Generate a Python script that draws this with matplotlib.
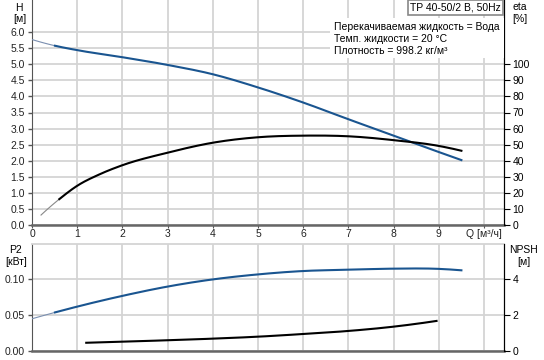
import matplotlib
matplotlib.use("Agg")
import matplotlib.pyplot as plt
import numpy as np
from matplotlib.patches import Rectangle

plt.rcParams['font.family'] = ['Liberation Sans', 'DejaVu Sans']
plt.rcParams['font.size'] = 7.5

# Data
q_h = [0.0, 0.5, 1.0, 2.0, 3.0, 4.0, 5.0, 6.0, 7.0, 8.0, 9.0, 9.5]
h_vals = [5.77, 5.58, 5.44, 5.22, 4.98, 4.69, 4.28, 3.81, 3.29, 2.78, 2.27, 2.02]
q_eta = [0.2, 0.6, 1.0, 1.5, 2.0, 3.0, 4.0, 5.0, 6.0, 7.0, 8.0, 9.0, 9.5]
eta_vals = [6.2, 16.0, 24.4, 31.6, 37.2, 45.0, 51.2, 54.6, 55.6, 55.2, 52.8, 49.2, 46.2]
q_p2 = [0.0, 1.0, 2.0, 3.0, 4.0, 5.0, 6.0, 7.0, 8.0, 9.0, 9.5]
p2_vals = [0.045, 0.062, 0.077, 0.090, 0.100, 0.107, 0.1117, 0.1135, 0.115, 0.1147, 0.1127]
q_npsh = [1.2, 2.0, 3.0, 4.0, 5.0, 6.0, 7.0, 8.0, 8.95]
npsh_vals = [0.46, 0.52, 0.60, 0.69, 0.80, 0.95, 1.12, 1.36, 1.68]

x_ticks = list(range(0, 11))
x_labels = [str(i) for i in range(10)] + ['Q [м³/ч]']
h_ticks = [i * 0.5 for i in range(13)]
eta_ticks = list(range(0, 101, 10))
p2_ticks = [0.00, 0.05, 0.10]
npsh_ticks = [0, 2, 4]

blue = '#1a5590'
gridc = '#d4d4d4'

def smooth(x, y, n=300):
    x = np.asarray(x, float); y = np.asarray(y, float)
    k = len(x)
    d = np.diff(y) / np.diff(x)
    h = np.diff(x)
    m = np.zeros(k)
    for i in range(1, k - 1):
        m[i] = (h[i] * d[i - 1] + h[i - 1] * d[i]) / (h[i - 1] + h[i])
    m[0] = d[0] - (m[1] - d[0])
    m[-1] = d[-1] + (d[-1] - m[-2])
    xs = np.linspace(x[0], x[-1], n)
    out = np.empty(n)
    for j, xv in enumerate(xs):
        i = min(max(np.searchsorted(x, xv) - 1, 0), k - 2)
        t = (xv - x[i]) / h[i]
        t2, t3 = t * t, t ** 3
        out[j] = ((2*t3 - 3*t2 + 1) * y[i] + (t3 - 2*t2 + t) * h[i] * m[i]
                  + (-2*t3 + 3*t2) * y[i + 1] + (t3 - t2) * h[i] * m[i + 1])
    return xs, out

fig = plt.figure(figsize=(5.44, 3.6), dpi=100)
xmax = (504 - 32) / 45.2

# ---------- top axes ----------
ax = fig.add_axes([32/544, 1 - 225/360, 472/544, 225/360])
ax.set_xlim(0, xmax)
ax.set_ylim(0, 7.0)
ax.set_xticks(x_ticks)
ax.set_xticklabels(x_labels)
ax.set_yticks(h_ticks)
ax.set_yticklabels([f'{v:.1f}' for v in h_ticks])
ax.grid(True, color=gridc, linewidth=1.3)
ax.set_axisbelow(True)
ax.tick_params(axis='y', length=3, width=1, pad=2, colors='#555555', labelcolor='#222222')
ax.tick_params(axis='x', length=2, pad=1, colors='#555555', labelcolor='#222222')
ax.spines['top'].set_visible(False)
ax.spines['left'].set_color('#555555')
ax.spines['bottom'].set_color('#666666')
ax.spines['bottom'].set_linewidth(1.8)
ax.spines['right'].set_color('black')

xs, ys = smooth(q_h, h_vals)
ax.plot(xs[xs <= 0.55], ys[xs <= 0.55], color='#7a8fb0', lw=0.8, zorder=3)
ax.plot(xs[xs >= 0.5], ys[xs >= 0.5], color=blue, lw=1.5, zorder=3)

ax2 = ax.twinx()
ax2.set_ylim(0, 140)
ax2.set_yticks(eta_ticks)
ax2.tick_params(axis='y', length=4, pad=2, colors='black')
for s in ['top', 'left', 'bottom']:
    ax2.spines[s].set_visible(False)
ax2.spines['right'].set_color('black')
xs, ys = smooth(q_eta, eta_vals)
ax2.plot(xs[xs <= 0.65], ys[xs <= 0.65], color='#888888', lw=0.8, zorder=3)
ax2.plot(xs[xs >= 0.6], ys[xs >= 0.6], color='black', lw=1.5, zorder=3)

fig.text(19/544, 1 - 8/360, 'H', ha='center', va='center', fontsize=7.5)
fig.text(20/544, 1 - 19/360, '[м]', ha='center', va='center', fontsize=7.5)
fig.text(520/544, 1 - 7/360, 'eta', ha='center', va='center', fontsize=7.5)
fig.text(520/544, 1 - 19/360, '[%]', ha='center', va='center', fontsize=7.5)

# info box
fig.patches.append(Rectangle((330/544, 1 - 58/360), 174/544, 40/360, transform=fig.transFigure,
                             facecolor='white', edgecolor='none', zorder=5))
fig.text(334/544, 1 - 27/360, 'Перекачиваемая жидкость = Вода', ha='left', va='center', fontsize=7.5, zorder=6)
fig.text(334/544, 1 - 39/360, 'Темп. жидкости = 20 °C', ha='left', va='center', fontsize=7.5, zorder=6)
fig.text(334/544, 1 - 51/360, 'Плотность = 998.2 кг/м³', ha='left', va='center', fontsize=7.5, zorder=6)
fig.patches.append(Rectangle((408/544, 1 - 15/360), 95/544, 15/360, transform=fig.transFigure,
                             facecolor='white', edgecolor='#888888', linewidth=1.2, zorder=5))
fig.text(455.5/544, 1 - 7.5/360, 'TP 40-50/2 B, 50Hz', ha='center', va='center', fontsize=7.5, zorder=6)

# ---------- bottom axes ----------
bx = fig.add_axes([32/544, 1 - 351/360, 472/544, (351 - 243.6)/360])
bx.set_xlim(0, xmax)
bx.set_ylim(0, 0.15)
bx.set_xticks(x_ticks)
bx.set_xticklabels([])
bx.set_yticks(p2_ticks)
bx.set_yticklabels([f'{v:.2f}' for v in p2_ticks])
bx.grid(True, color=gridc, linewidth=1.3)
bx.set_axisbelow(True)
bx.tick_params(axis='y', length=3, width=1, pad=2, colors='#555555', labelcolor='#222222')
bx.tick_params(axis='x', length=0)
bx.spines['top'].set_color(gridc)
bx.spines['top'].set_linewidth(1.3)
bx.spines['left'].set_color('#555555')
bx.spines['bottom'].set_color('#666666')
bx.spines['bottom'].set_linewidth(1.8)
bx.spines['right'].set_color('black')
xs, ys = smooth(q_p2, p2_vals)
bx.plot(xs[xs <= 0.55], ys[xs <= 0.55], color='#7a8fb0', lw=0.8, zorder=3)
bx.plot(xs[xs >= 0.5], ys[xs >= 0.5], color=blue, lw=1.5, zorder=3)

bx2 = bx.twinx()
bx2.set_ylim(0, 6)
bx2.set_yticks(npsh_ticks)
bx2.tick_params(axis='y', length=4, pad=2, colors='black')
for s in ['top', 'left', 'bottom']:
    bx2.spines[s].set_visible(False)
xs, ys = smooth(q_npsh, npsh_vals)
bx2.plot(xs, ys, color='black', lw=1.5, zorder=3)

fig.text(15/544, 1 - 250/360, 'P2', ha='center', va='center', fontsize=7.5)
fig.text(16/544, 1 - 262/360, '[кВт]', ha='center', va='center', fontsize=7.5)
fig.text(524/544, 1 - 250/360, 'NPSH', ha='center', va='center', fontsize=7.5)
fig.text(524/544, 1 - 262/360, '[м]', ha='center', va='center', fontsize=7.5)

fig.savefig('out.png', dpi=100)
